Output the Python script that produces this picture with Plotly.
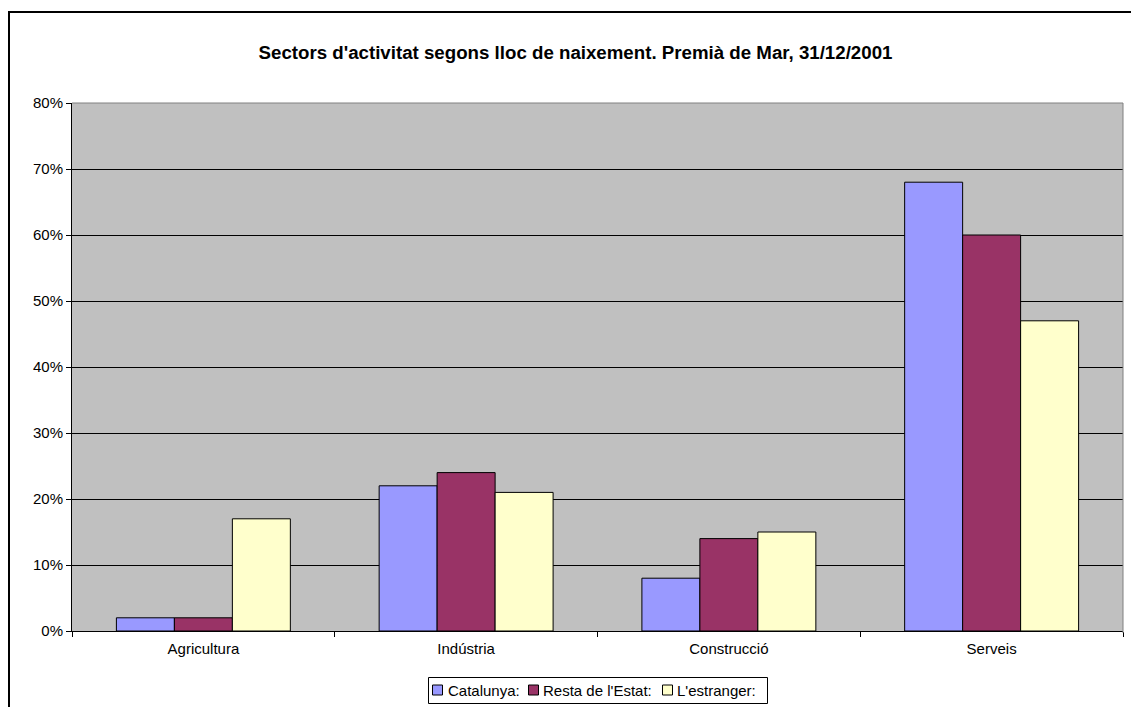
import plotly.graph_objects as go

categories = ["Agricultura", "Indústria", "Construcció", "Serveis"]
catalunya = [2, 22, 8, 68]
resta_estat = [2, 24, 14, 60]
estranger = [17, 21, 15, 47]
y_ticks = [0, 10, 20, 30, 40, 50, 60, 70, 80]
y_labels = [f"{v}%" for v in y_ticks]
series_names = ["Catalunya:", "Resta de l'Estat:", "L'estranger:"]
series_colors = ["#9999FF", "#993366", "#FFFFCC"]
series_values = [catalunya, resta_estat, estranger]

W, H = 1131, 707
L, R, T, B = 72, 8, 103, 76
PW, PH = W - L - R, H - T - B


def px(xp):
    return (xp - L) / PW


def py(yp):
    return (H - B - yp) / PH


fig = go.Figure()
for name, vals, col in zip(series_names, series_values, series_colors):
    fig.add_trace(go.Bar(
        x=categories, y=vals, name=name, showlegend=False,
        marker=dict(color=col, line=dict(color="black", width=1)),
    ))

fig.update_layout(
    width=W, height=H,
    paper_bgcolor="white", plot_bgcolor="#C0C0C0",
    margin=dict(l=L, r=R, t=T, b=B, autoexpand=False),
    barmode="group", bargap=0.338, bargroupgap=0,
    font=dict(family="Liberation Sans, Arial", size=15, color="black"),
    title=dict(text="<b>Sectors d'activitat segons lloc de naixement. Premià de Mar, 31/12/2001</b>",
               x=px(575.5), xref="paper", xanchor="center", y=1 - 52 / H, yanchor="middle",
               font=dict(size=18.7, family="Liberation Sans, Arial")),
    showlegend=False,
    xaxis=dict(showgrid=False, tickson="boundaries", ticks="outside", ticklen=5,
               tickcolor="black", showline=True, linecolor="black", linewidth=1,
               tickfont=dict(size=15), ticklabelstandoff=4),
    yaxis=dict(range=[0, 80], tickvals=y_ticks, ticktext=y_labels, showgrid=True,
               gridcolor="black", gridwidth=1, ticks="outside", ticklen=5,
               tickcolor="black", showline=True, linecolor="black", linewidth=1,
               zeroline=False, tickfont=dict(size=15)),
)

# plot-area top/right border (gray)
fig.add_shape(type="line", xref="paper", yref="paper", x0=0, x1=1, y0=1, y1=1,
              line=dict(color="#808080", width=1))
fig.add_shape(type="line", xref="paper", yref="paper", x0=1, x1=1, y0=py(633), y1=1,
              line=dict(color="#808080", width=1))
# outer chart frame (black, extends beyond view at right/bottom)
fig.add_shape(type="rect", xref="paper", yref="paper",
              x0=px(9), x1=px(1160), y0=py(740), y1=py(12),
              line=dict(color="black", width=2), layer="above")

# legend box (Excel style: small squares next to labels)
fig.add_shape(type="rect", xref="paper", yref="paper",
              x0=px(428.5), x1=px(767.5), y0=py(703.5), y1=py(677.5),
              line=dict(color="black", width=1), fillcolor="white", layer="above")
sq_x = [432, 528, 662]
tx_x = [446, 541, 675]
cy = 690
for name, col, sx, tx in zip(series_names, series_colors, sq_x, tx_x):
    fig.add_shape(type="rect", xref="paper", yref="paper",
                  x0=px(sx + 0.5), x1=px(sx + 10.5), y0=py(cy + 5), y1=py(cy - 5),
                  line=dict(color="black", width=1), fillcolor=col, layer="above")
    fig.add_annotation(text=name, xref="paper", yref="paper", x=px(tx), y=py(cy),
                       xanchor="left", yanchor="middle", showarrow=False,
                       font=dict(size=15, color="black"))

fig.write_html("out.html", config={"displayModeBar": False},
               post_script="document.body.style.margin='0';")
